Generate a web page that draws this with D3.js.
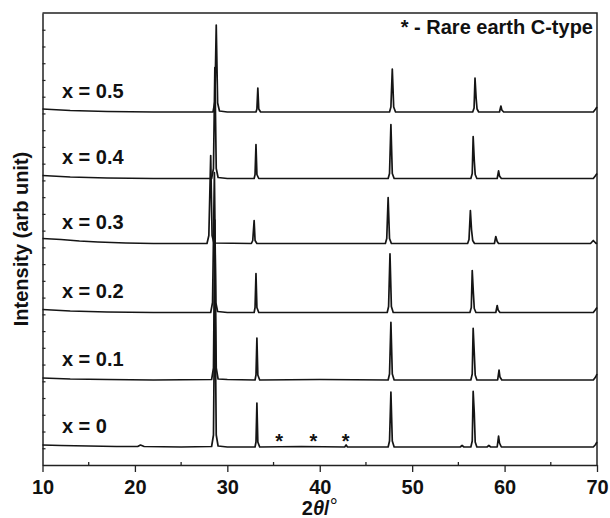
<!DOCTYPE html>
<html>
<head>
<meta charset="utf-8">
<script src="https://cdn.jsdelivr.net/npm/d3@7"></script>
<style>
  body { margin: 0; background: #fff; }
  svg text { font-family: "Liberation Sans", Arial, Helvetica, sans-serif; font-weight: bold; fill: #111; }
</style>
</head>
<body>
<div id="graph-container"></div>
<script>
// Sample compositions, bottom to top
const compositions = ["x = 0", "x = 0.1", "x = 0.2", "x = 0.3", "x = 0.4", "x = 0.5"];

// Vertical offset of each pattern (arb units)
const offsets = [18, 85, 152.5, 221.5, 286.5, 353];

// Patterns as [2theta, intensity above own baseline]
const pattern0 = [[10, 2], [12, 1.5], [15, 1], [18, 0.5], [20.3, 0.5], [20.6, 2], [21, 0.5], [25, 0], [28.3, 0.5],
  [28.5, 12], [28.65, 165], [28.8, 12], [29.0, 1], [30, 0], [33.0, 0], [33.1, 5], [33.2, 44], [33.3, 5], [33.5, 0],
  [38, 0.5], [42.7, 0], [42.85, 2], [43.0, 0], [47.4, 0], [47.55, 6], [47.7, 55], [47.85, 6], [48.05, 0],
  [55.2, 0], [55.4, 1.5], [55.6, 0], [56.35, 0], [56.5, 6], [56.6, 55.6], [56.72, 34], [56.82, 5], [57.0, 0],
  [58.1, 0], [58.3, 1.5], [58.5, 0], [59.2, 0], [59.35, 11], [59.45, 4], [59.65, 0], [69.6, 0], [69.85, 2.5], [70, 5]];
const pattern1 = [[10, 2], [13, 1], [17, 0.5], [22, 0], [28.3, 0.5], [28.5, 12], [28.65, 160], [28.8, 12], [29.0, 1],
  [30, 0.5], [33.0, 0], [33.1, 5], [33.2, 42], [33.3, 5], [33.5, 0], [40, 0.5], [47.4, 0], [47.55, 6], [47.7, 57.7],
  [47.85, 6], [48.05, 0], [56.35, 0], [56.5, 6], [56.6, 51.7], [56.72, 27], [56.82, 5], [57, 0], [59.25, 0],
  [59.4, 10], [59.5, 3], [59.7, 0], [69.6, 0], [69.85, 3], [70, 6]];
const pattern2 = [[10, 3], [13, 1.5], [17, 0.5], [22, 0], [28.2, 0], [28.4, 10], [28.6, 140], [28.75, 10], [28.95, 1],
  [30, 0], [32.9, 0], [33.0, 5], [33.1, 39], [33.2, 5], [33.4, 0], [47.3, 0], [47.45, 6], [47.6, 58.7], [47.75, 6],
  [47.95, 0], [56.25, 0], [56.4, 5], [56.5, 42], [56.62, 20], [56.72, 4], [56.9, 0], [59.05, 0], [59.2, 7],
  [59.3, 2.5], [59.5, 0], [69.6, 0], [69.85, 3], [70, 5]];
const pattern3 = [[10, 5], [12, 4], [14, 2.5], [16, 1.5], [19, 0.5], [22, 0], [27.8, 0], [28.0, 8], [28.2, 88],
  [28.35, 8], [28.55, 0.5], [32.6, 0], [32.75, 3], [32.9, 23], [33.0, 3], [33.2, 0], [47.1, 0], [47.25, 5],
  [47.4, 46], [47.55, 5], [47.75, 0], [56.0, 0], [56.15, 4], [56.3, 33], [56.42, 14], [56.55, 3], [56.75, 0],
  [58.9, 0], [59.05, 7], [59.2, 2], [59.35, 0], [69.3, 0], [69.6, 3], [69.9, 0], [70, 0.5]];
const pattern4 = [[10, 3], [13, 1.5], [17, 0.5], [22, 0], [28.3, 0], [28.5, 10], [28.65, 111], [28.8, 10], [29.0, 1],
  [30, 0], [32.9, 0], [33.0, 4], [33.1, 34], [33.2, 4], [33.4, 0], [47.4, 0], [47.55, 5], [47.7, 54], [47.85, 5],
  [48.05, 0], [56.35, 0], [56.5, 5], [56.6, 42], [56.72, 18], [56.82, 4], [57.0, 0], [59.2, 0], [59.35, 7.6],
  [59.45, 2.5], [59.65, 0], [69.6, 0], [69.85, 3], [70, 5]];
const pattern5 = [[10, 3], [13, 1.5], [17, 0.5], [22, 0], [28.45, 0], [28.65, 10], [28.8, 87], [28.95, 9], [29.15, 1],
  [30, 0], [33.1, 0], [33.2, 3], [33.3, 24], [33.4, 3], [33.6, 0], [47.55, 0], [47.7, 5], [47.85, 43], [48.0, 5],
  [48.2, 0], [56.55, 0], [56.7, 4], [56.8, 34], [56.92, 14], [57.02, 3], [57.2, 0], [59.45, 0], [59.6, 6], [59.7, 2],
  [59.9, 0], [69.6, 0], [69.85, 3], [70, 5]];
const patterns = [pattern0, pattern1, pattern2, pattern3, pattern4, pattern5];

// Rare earth C-type reflections marked with asterisks on x = 0
const starPositions = [35.6, 39.3, 42.8];

const xTicks = [10, 20, 30, 40, 50, 60, 70];
const xMinorTicks = [15, 25, 35, 45, 55, 65];

function createChart() {
  const margin = { top: 13, right: 13, bottom: 53, left: 42.5 };
  const width = 610 - margin.left - margin.right;
  const height = 518 - margin.top - margin.bottom;

  const svg = d3.select("#graph-container")
    .append("svg")
    .attr("width", 610)
    .attr("height", 518);

  const g = svg.append("g")
    .attr("transform", `translate(${margin.left},${margin.top})`);

  const x = d3.scaleLinear().domain([10, 70]).range([0, width]);
  const y = d3.scaleLinear().domain([0, height]).range([height, 0]); // arb units

  // Bottom axis with outward major ticks
  const xAxis = g.append("g")
    .attr("transform", `translate(0,${height})`)
    .call(d3.axisBottom(x).tickValues(xTicks).tickSize(7).tickSizeOuter(0).tickPadding(8));
  xAxis.select(".domain").attr("stroke", "#222").attr("stroke-width", 1.5);
  xAxis.selectAll(".tick line").attr("stroke", "#222").attr("stroke-width", 1.3);
  xAxis.selectAll(".tick text")
    .attr("font-size", 20)
    .attr("font-family", null)
    .attr("fill", "#111");

  // Minor ticks on the bottom axis
  g.append("g")
    .selectAll("line")
    .data(xMinorTicks)
    .enter()
    .append("line")
    .attr("x1", (d) => x(d))
    .attr("x2", (d) => x(d))
    .attr("y1", height)
    .attr("y2", height - 3)
    .attr("stroke", "#222")
    .attr("stroke-width", 1.3);

  // Left axis: inward unlabelled ticks
  const yTicks = d3.range(1, 27).map((i) => (i * height) / 27);
  const yAxis = g.append("g")
    .call(d3.axisLeft(y).tickValues(yTicks).tickSize(-3).tickSizeOuter(0).tickFormat(""));
  yAxis.select(".domain").attr("stroke", "#222").attr("stroke-width", 1.5);
  yAxis.selectAll(".tick line").attr("stroke", "#222").attr("stroke-width", 1.2);

  // Top and right frame
  g.append("path")
    .attr("d", `M0,0H${width}V${height}`)
    .attr("fill", "none")
    .attr("stroke", "#222")
    .attr("stroke-width", 1.5);

  // Diffraction patterns
  const line = d3.line()
    .x((d) => x(d[0]))
    .y((d) => y(d[1]));

  g.append("g")
    .selectAll("path")
    .data(patterns)
    .enter()
    .append("path")
    .attr("d", (d, i) => line(d.map((p) => [p[0], p[1] + offsets[i]])))
    .attr("fill", "none")
    .attr("stroke", "#151515")
    .attr("stroke-width", 1.7)
    .attr("stroke-linejoin", "round");

  // Composition labels
  g.append("g")
    .selectAll("text")
    .data(compositions)
    .enter()
    .append("text")
    .attr("x", x(12.1))
    .attr("y", (d, i) => y(offsets[i] + 14.5))
    .attr("font-size", 20)
    .text((d) => d);

  // Asterisks
  g.append("g")
    .selectAll("text")
    .data(starPositions)
    .enter()
    .append("text")
    .attr("x", (d) => x(d))
    .attr("y", y(offsets[0] - 1))
    .attr("text-anchor", "middle")
    .attr("font-size", 20)
    .text("*");

  // Legend note
  g.append("text")
    .attr("x", width - 4)
    .attr("y", 21)
    .attr("text-anchor", "end")
    .attr("font-size", 20)
    .text("* - Rare earth C-type");

  // Axis titles
  const xTitle = svg.append("text")
    .attr("x", margin.left + width / 2)
    .attr("y", 515)
    .attr("text-anchor", "middle")
    .attr("font-size", 20);
  xTitle.append("tspan").text("2");
  xTitle.append("tspan").attr("font-style", "italic").text("θ");
  xTitle.append("tspan").text("/");
  xTitle.append("tspan").attr("font-weight", "normal").attr("dy", -2).text("°");

  svg.append("text")
    .attr("transform", `translate(28,${margin.top + height / 2}) rotate(-90)`)
    .attr("text-anchor", "middle")
    .attr("font-size", 20)
    .text("Intensity (arb unit)");
}

createChart();
</script>
</body>
</html>
